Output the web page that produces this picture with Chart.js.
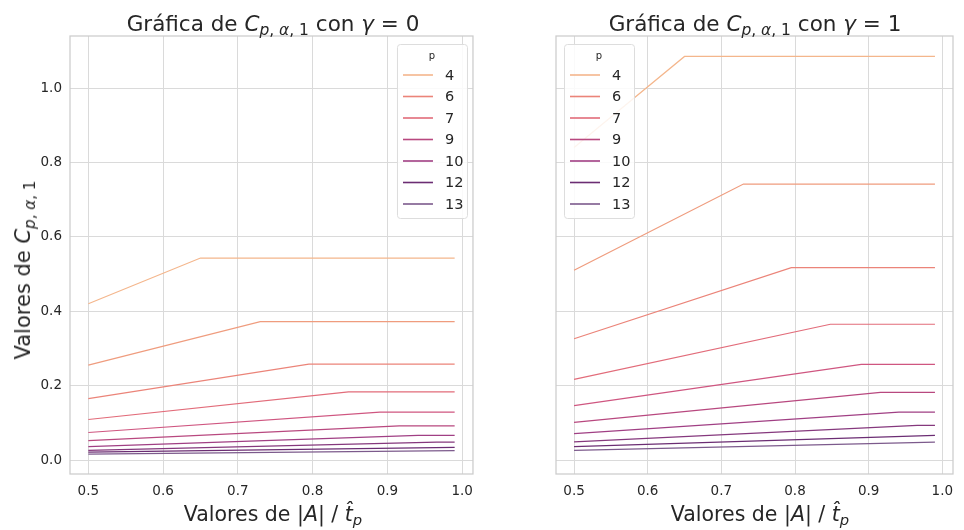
<!DOCTYPE html>
<html>
<head>
<meta charset="utf-8">
<script src="https://cdn.jsdelivr.net/npm/chart.js@4"></script>
<style>
  body { margin: 0; background: #fff; font-family: "DejaVu Sans", sans-serif; color: #262626; }
  #wrap { position: relative; width: 964px; height: 530px; overflow: hidden; }
  canvas { position: absolute; top: 0; }
  .lbl { position: absolute; white-space: nowrap; transform: translate(-50%, -50%); }
  .ttl { font-size: 21.5px; top: 23px; }
  .xl { font-size: 20.5px; top: 514px; }
  .yl { font-size: 21px; left: 23px; top: 270px; transform: translate(-50%, -50%) rotate(-90deg); }
  sub { font-size: 0.72em; vertical-align: -0.3em; line-height: 0; }
</style>
</head>
<body>
<div id="wrap">
  <canvas id="left" width="482" height="530" style="left:0"></canvas>
  <canvas id="right" width="482" height="530" style="left:482px"></canvas>
  <div class="lbl ttl" style="left:273px">Gráfica de <i>C</i><sub><i>p</i>, <i>α</i>, 1</sub> con <i>γ</i> = 0</div>
  <div class="lbl ttl" style="left:755px">Gráfica de <i>C</i><sub><i>p</i>, <i>α</i>, 1</sub> con <i>γ</i> = 1</div>
  <div class="lbl yl">Valores de <i>C</i><sub><i>p</i>, <i>α</i>, 1</sub></div>
  <div class="lbl xl" style="left:273px">Valores de |<i>A</i>| / <i>t̂</i><sub><i>p</i></sub></div>
  <div class="lbl xl" style="left:760px">Valores de |<i>A</i>| / <i>t̂</i><sub><i>p</i></sub></div>
</div>
<script>
// hue levels and the x where each curve stops rising (null = no visible break)
const pValues = [4, 5, 6, 7, 8, 9, 10, 11, 12, 13];
const xFirst = 0.5;
const xLast = 0.99;
const xBreak = [0.65, 0.73, 0.795, 0.848, 0.89, 0.916, 0.941, 0.966, null, null];

// gamma = 0 panel: value at x=0.5 and plateau value
const startG0 = [0.42, 0.255, 0.165, 0.109, 0.074, 0.052, 0.036, 0.026, 0.021, 0.016];
const endG0 = [0.543, 0.372, 0.258, 0.183, 0.129, 0.092, 0.066, 0.048, 0.034, 0.025];

// gamma = 1 panel
const startG1 = [0.84, 0.51, 0.326, 0.217, 0.146, 0.101, 0.071, 0.049, 0.036, 0.026];
const endG1 = [1.085, 0.742, 0.517, 0.365, 0.257, 0.182, 0.129, 0.093, 0.066, 0.048];

const legendP = [4, 6, 7, 9, 10, 12, 13];
const xTicks = [0.5, 0.6, 0.7, 0.8, 0.9, 1.0];
const yTicks = [0.0, 0.2, 0.4, 0.6, 0.8, 1.0];

const colors = ["#f4b68c", "#ef9c7e", "#eb8479", "#e26c7a", "#cf5680", "#b8487f",
                "#a03f84", "#85387d", "#6b2d73", "#7c5a8c"];

function buildSets(starts, ends) {
  return pValues.map((p, i) => {
    const pts = [{ x: xFirst, y: starts[i] }];
    if (xBreak[i] !== null) pts.push({ x: xBreak[i], y: ends[i] });
    pts.push({ x: xLast, y: ends[i] });
    return {
      label: String(p),
      data: pts,
      borderColor: colors[i],
      borderWidth: 1.2,
      pointRadius: 0,
      tension: 0,
      fill: false,
    };
  });
}

// spines + inside legend box
const framePlugin = {
  id: "frame",
  afterDraw(chart, args, opts) {
    const { ctx, chartArea: a } = chart;
    ctx.save();
    ctx.strokeStyle = "#cccccc";
    ctx.lineWidth = 1.25;
    ctx.strokeRect(a.left, a.top, a.right - a.left, a.bottom - a.top);

    const bw = 70, bh = 174;
    const bx = opts.side === "right" ? a.right - bw - 6 : a.left + 8;
    const by = a.top + 8;
    ctx.fillStyle = "rgba(255,255,255,0.85)";
    ctx.strokeStyle = "#dddddd";
    ctx.lineWidth = 1;
    ctx.beginPath();
    ctx.roundRect(bx + 0.5, by + 0.5, bw, bh, 3);
    ctx.fill();
    ctx.stroke();

    ctx.fillStyle = "#262626";
    ctx.font = "10px 'DejaVu Sans'";
    ctx.textAlign = "center";
    ctx.textBaseline = "middle";
    ctx.fillText("p", bx + 35, by + 12);

    ctx.font = "14.5px 'DejaVu Sans'";
    ctx.textAlign = "left";
    legendP.forEach((p, k) => {
      const yy = by + 31 + k * 21.5;
      ctx.strokeStyle = colors[pValues.indexOf(p)];
      ctx.lineWidth = 1.6;
      ctx.beginPath();
      ctx.moveTo(bx + 6, yy);
      ctx.lineTo(bx + 36, yy);
      ctx.stroke();
      ctx.fillText(String(p), bx + 48, yy + 1);
    });
    ctx.restore();
  },
};

function makeChart(id, starts, ends, showY, side, yWidth, padRight) {
  new Chart(document.getElementById(id), {
    type: "line",
    data: { datasets: buildSets(starts, ends) },
    plugins: [framePlugin],
    options: {
      responsive: false,
      animation: false,
      layout: { padding: { top: 36, right: padRight, left: 0, bottom: 0 } },
      scales: {
        x: {
          type: "linear",
          min: 0.4755,
          max: 1.0145,
          afterBuildTicks: (s) => { s.ticks = xTicks.map((v) => ({ value: v })); },
          afterFit: (s) => { s.height = 56; },
          grid: { color: "#dadada", lineWidth: 1, drawTicks: false },
          border: { display: false },
          ticks: {
            padding: 9,
            color: "#262626",
            font: { family: "DejaVu Sans", size: 13.5 },
            callback: (v) => Number(v).toFixed(1),
            maxRotation: 0,
          },
        },
        y: {
          min: -0.0376,
          max: 1.14,
          afterBuildTicks: (s) => { s.ticks = yTicks.map((v) => ({ value: v })); },
          afterFit: (s) => { s.width = yWidth; },
          grid: { color: "#dadada", lineWidth: 1, drawTicks: false },
          border: { display: false },
          ticks: {
            display: showY,
            padding: 8,
            color: "#262626",
            font: { family: "DejaVu Sans", size: 13.5 },
            callback: (v) => Number(v).toFixed(1),
          },
        },
      },
      plugins: {
        legend: { display: false },
        tooltip: { enabled: false },
        frame: { side: side },
      },
    },
  });
}

makeChart("left", startG0, endG0, true, "right", 70, 5);
makeChart("right", startG1, endG1, false, "left", 74, 11);
</script>
</body>
</html>
